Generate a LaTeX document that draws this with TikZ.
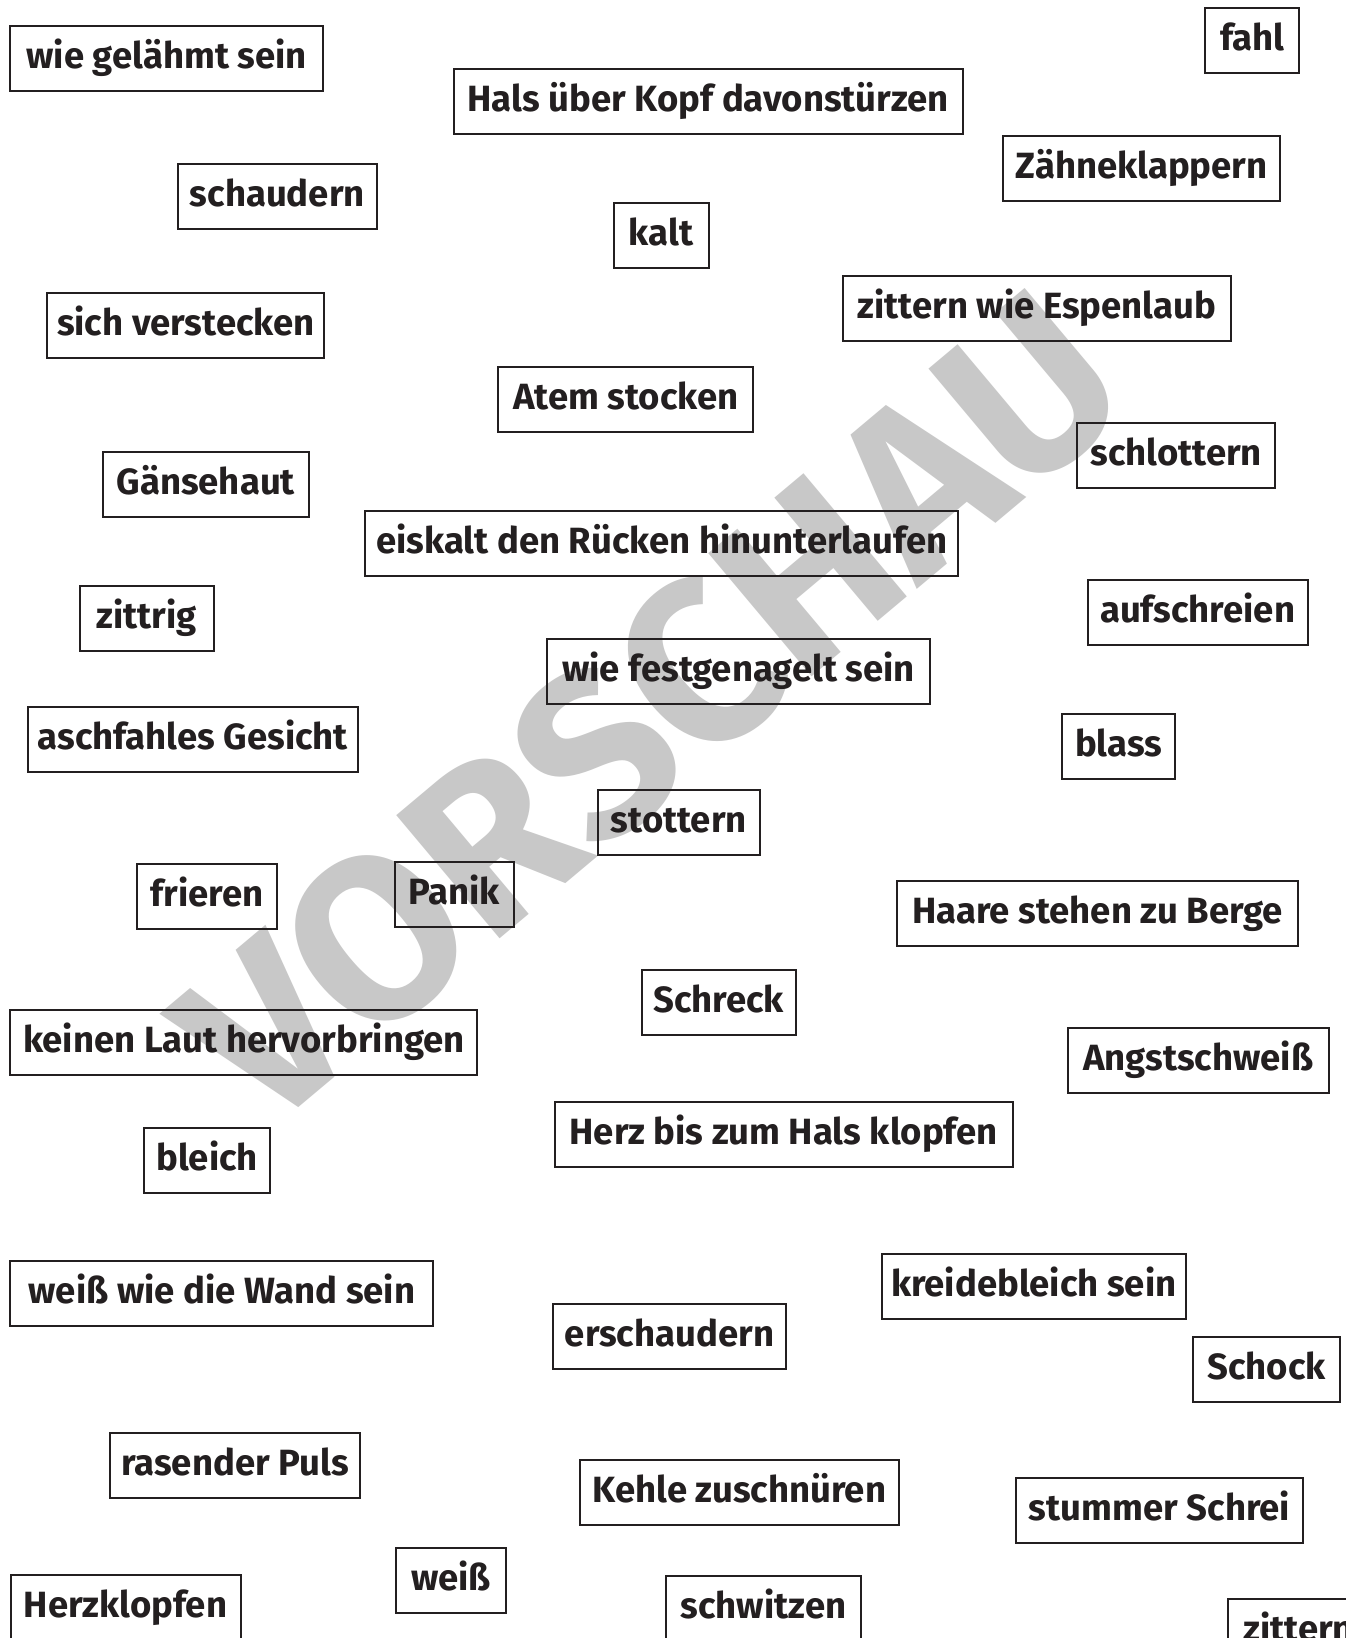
\documentclass[tikz,border=0pt]{standalone}
\usepackage{fontspec}
\setmainfont{Fira Sans}
\usepackage{tikz}
\definecolor{wmgray}{RGB}{200,200,200}
\definecolor{ink}{RGB}{35,31,32}
\def\boxthickness{2pt}
\tikzset{word/.style={draw=ink, text=ink, line width=\boxthickness,
    minimum height=65pt, inner sep=0pt, text height=26pt, text depth=6pt,
    font=\bfseries\fontsize{36.5}{40}\selectfont}}

\begin{document}
\begin{tikzpicture}[x=1pt, y=-1pt]
    \useasboundingbox (0,0) rectangle (1346,1638);
    \clip (0,0) rectangle (1346,1638);
    \fill[white] (0,0) rectangle (1346,1638);
    % watermark
    \node[text=wmgray, rotate=40, inner sep=0pt, font=\bfseries\fontsize{232}{232}\selectfont] (vorschau) at (650,708) {VORSCHAU};
    \node[word, minimum width=312.6pt] (gelaehmt) at (166.7,58.5) {wie gelähmt sein};
    \node[word, minimum width=508.8pt] (hals) at (708.2,101.7) {Hals über Kopf davonstürzen};
    \node[word, minimum width=94pt] (fahl) at (1252.4,40.3) {fahl};
    \node[word, minimum width=199pt] (schaudern) at (277.3,196.7) {schaudern};
    \node[word, minimum width=277.4pt] (zaehne) at (1141.5,168.7) {Zähneklappern};
    \node[word, minimum width=95pt] (kalt) at (661,235.7) {kalt};
    \node[word, minimum width=277pt] (verstecken) at (185.8,325) {sich verstecken};
    \node[word, minimum width=388.5pt] (espenlaub) at (1037,308) {zittern wie Espenlaub};
    \node[word, minimum width=255.5pt] (atem) at (625.7,399) {Atem stocken};
    \node[word, minimum width=197.6pt] (schlottern) at (1176.2,455) {schlottern};
    \node[word, minimum width=206.2pt] (gaensehaut) at (205.8,484) {Gänsehaut};
    \node[word, minimum width=592.9pt] (ruecken) at (661.8,543.3) {eiskalt den Rücken hinunterlaufen};
    \node[word, minimum width=134.5pt] (zittrig) at (146.8,618) {zittrig};
    \node[word, minimum width=219.9pt] (aufschreien) at (1197.6,612) {aufschreien};
    \node[word, minimum width=383pt] (festgenagelt) at (738.5,671.3) {wie festgenagelt sein};
    \node[word, minimum width=329.8pt] (aschfahl) at (192.9,739.2) {aschfahles Gesicht};
    \node[word, minimum width=112.6pt] (blass) at (1118.7,746.8) {blass};
    \node[word, minimum width=162.4pt] (stottern) at (678.8,822.3) {stottern};
    \node[word, minimum width=139.7pt] (frieren) at (206.8,896.3) {frieren};
    \node[word, minimum width=118.6pt] (panik) at (454.3,894) {Panik};
    \node[word, minimum width=401.5pt] (haare) at (1097.5,913.3) {Haare stehen zu Berge};
    \node[word, minimum width=153.8pt] (schreck) at (718.7,1002.7) {Schreck};
    \node[word, minimum width=466.7pt] (laut) at (243.8,1042) {keinen Laut hervorbringen};
    \node[word, minimum width=261.1pt] (angstschweiss) at (1198.2,1060.8) {Angstschweiß};
    \node[word, minimum width=458.2pt] (herzhals) at (783.7,1134.5) {Herz bis zum Hals klopfen};
    \node[word, minimum width=125.5pt] (bleich) at (207.1,1160) {bleich};
    \node[word, minimum width=422.9pt] (wand) at (221.9,1293.5) {weiß wie die Wand sein};
    \node[word, minimum width=304pt] (kreidebleich) at (1033.7,1286.7) {kreidebleich sein};
    \node[word, minimum width=232.3pt] (erschaudern) at (669.5,1336.7) {erschaudern};
    \node[word, minimum width=146.9pt] (schock) at (1266.7,1369.3) {Schock};
    \node[word, minimum width=249.1pt] (puls) at (235,1465.5) {rasender Puls};
    \node[word, minimum width=319pt] (kehle) at (739.5,1492.3) {Kehle zuschnüren};
    \node[word, minimum width=286.9pt] (stumm) at (1159.5,1510.8) {stummer Schrei};
    \node[word, minimum width=110.5pt] (weiss) at (451,1580.3) {weiß};
    \node[word, minimum width=230pt] (herzklopfen) at (125.5,1607) {Herzklopfen};
    \node[word, minimum width=195.5pt] (schwitzen) at (763.5,1608.5) {schwitzen};
    \node[word, minimum width=142pt] (zittern) at (1298.7,1631.6) {zittern};
\end{tikzpicture}
\end{document}
